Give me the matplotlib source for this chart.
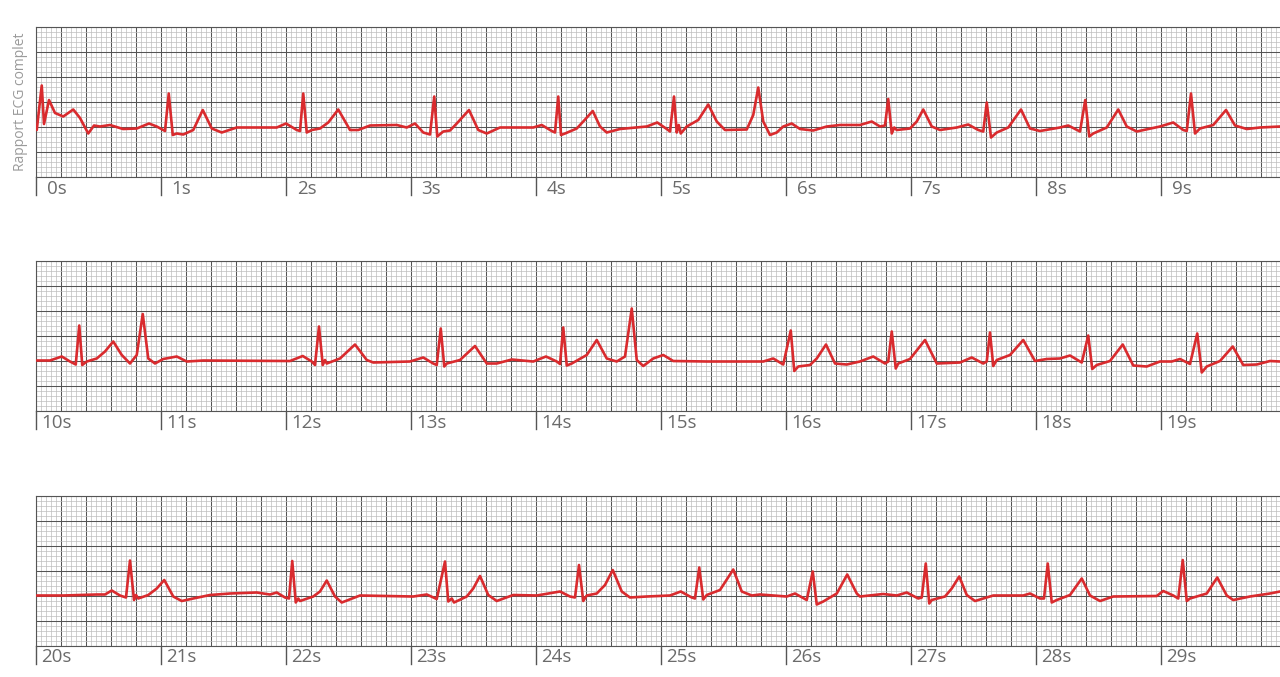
import matplotlib
matplotlib.use("Agg")
import matplotlib.pyplot as plt
import matplotlib.transforms as mtransforms
import numpy as np

# ---- data (time in seconds, amplitude in mV), traced from the strip ----
row1_t = [0.006, 0.046, 0.064, 0.104, 0.152, 0.218, 0.298, 0.352, 0.418, 0.464, 0.512, 0.592, 0.696, 0.806, 0.904, 0.966,
          1.032, 1.062, 1.094, 1.126, 1.178, 1.258, 1.334, 1.406, 1.486, 1.606, 1.926, 2.000, 2.086, 2.112, 2.138, 2.166,
          2.206, 2.272, 2.338, 2.418, 2.512, 2.578, 2.672, 2.886, 2.966, 3.032, 3.098, 3.152, 3.186, 3.210, 3.258, 3.312,
          3.366, 3.464, 3.538, 3.606, 3.712, 3.978, 4.046, 4.126, 4.152, 4.178, 4.200, 4.232, 4.326, 4.378, 4.454, 4.512,
          4.566, 4.672, 4.886, 4.970, 5.046, 5.072, 5.104, 5.126, 5.142, 5.158, 5.206, 5.298, 5.378, 5.446, 5.512, 5.686,
          5.738, 5.778, 5.818, 5.872, 5.926, 5.978, 6.046, 6.112, 6.218, 6.326, 6.432, 6.592, 6.686, 6.752, 6.792, 6.818,
          6.846, 6.866, 6.886, 6.992, 7.046, 7.098, 7.166, 7.232, 7.366, 7.458, 7.538, 7.578, 7.606, 7.640, 7.686, 7.778,
          7.880, 7.952, 8.032, 8.192, 8.258, 8.352, 8.394, 8.426, 8.458, 8.566, 8.658, 8.726, 8.806, 8.992, 9.098, 9.178,
          9.206, 9.240, 9.272, 9.312, 9.418, 9.520, 9.592, 9.686, 9.792, 9.952]
row1_v = [-0.06, 0.83, 0.06, 0.54, 0.28, 0.21, 0.35, 0.18, -0.13, 0.03, 0.01, 0.04, -0.04, -0.03, 0.07, 0.01,
          -0.08, 0.67, -0.16, -0.13, -0.15, -0.06, 0.34, -0.03, -0.11, -0.01, -0.01, 0.07, -0.06, -0.08, 0.67, -0.11,
          -0.06, -0.03, 0.09, 0.35, -0.06, -0.06, 0.03, 0.04, -0.01, 0.07, -0.11, -0.15, 0.61, -0.19, -0.09, -0.07,
          0.07, 0.34, -0.06, -0.13, -0.01, -0.01, 0.04, -0.08, -0.11, 0.61, -0.16, -0.13, -0.03, 0.11, 0.32, 0.01,
          -0.11, -0.04, 0.01, 0.09, -0.04, -0.09, 0.61, -0.11, 0.04, -0.13, 0.01, 0.14, 0.45, 0.11, -0.06, -0.05,
          0.24, 0.79, 0.11, -0.16, -0.11, 0.01, 0.07, -0.04, -0.07, 0.01, 0.04, 0.04, 0.11, 0.01, 0.03, 0.56,
          -0.13, -0.01, -0.06, -0.03, 0.11, 0.35, 0.01, -0.06, -0.01, 0.05, -0.06, -0.09, 0.49, -0.21, -0.11, -0.01,
          0.35, -0.03, -0.08, -0.01, 0.03, -0.09, 0.54, -0.19, -0.13, -0.01, 0.35, 0.01, -0.09, 0.01, 0.09, -0.06,
          -0.08, 0.67, -0.13, -0.03, 0.04, 0.34, 0.03, -0.04, -0.01, 0.01]

row2_t = [10.006, 10.112, 10.206, 10.272, 10.318, 10.346, 10.370, 10.406, 10.486, 10.552, 10.618, 10.686, 10.752,
          10.806, 10.854, 10.898, 10.952, 11.018, 11.126, 11.206, 11.338, 12.032, 12.134, 12.206, 12.232, 12.264,
          12.294, 12.312, 12.326, 12.432, 12.552, 12.646, 12.698, 12.992, 13.098, 13.178, 13.206, 13.238, 13.266,
          13.286, 13.392, 13.512, 13.606, 13.686, 13.806, 13.978, 14.080, 14.166, 14.192, 14.218, 14.246, 14.286,
          14.406, 14.486, 14.566, 14.646, 14.712, 14.766, 14.806, 14.858, 14.938, 15.018, 15.098, 15.366, 15.818,
          15.898, 15.978, 16.038, 16.066, 16.098, 16.192, 16.246, 16.320, 16.392, 16.486, 16.592, 16.698, 16.792,
          16.818, 16.846, 16.878, 16.898, 16.992, 17.112, 17.206, 17.392, 17.486, 17.578, 17.606, 17.632, 17.658,
          17.686, 17.792, 17.898, 17.992, 18.086, 18.192, 18.272, 18.366, 18.418, 18.450, 18.486, 18.592, 18.694,
          18.778, 18.886, 18.992, 19.086, 19.152, 19.232, 19.290, 19.326, 19.366, 19.472, 19.574, 19.658, 19.766,
          19.872, 19.952]
row2_v = [0.01, 0.01, 0.09, -0.01, -0.07, 0.71, -0.08, -0.01, 0.05, 0.19, 0.39, 0.12, -0.05,
          0.12, 0.94, 0.05, -0.05, 0.04, 0.09, -0.01, 0.01, 0.00, 0.10, -0.01, -0.08, 0.69,
          -0.08, 0.02, -0.05, 0.05, 0.33, 0.02, -0.03, -0.01, 0.07, -0.05, -0.08, 0.65, -0.11,
          -0.05, 0.02, 0.30, -0.05, -0.05, 0.03, -0.01, 0.09, -0.01, -0.06, 0.67, -0.09, -0.05,
          0.12, 0.42, 0.05, -0.01, 0.09, 1.05, 0.02, -0.10, 0.05, 0.12, 0.00, -0.01, -0.01,
          0.05, -0.07, 0.61, -0.20, -0.11, -0.08, 0.05, 0.33, -0.05, -0.07, -0.01, 0.09, -0.05,
          -0.01, 0.59, -0.15, -0.05, 0.04, 0.42, -0.05, -0.03, 0.07, -0.05, -0.01, 0.57, -0.10,
          0.02, 0.12, 0.42, 0.00, 0.04, 0.05, 0.11, -0.03, 0.51, -0.16, -0.08, 0.00, 0.33,
          -0.09, -0.11, -0.01, -0.01, 0.04, -0.06, 0.55, -0.23, -0.11, 0.00, 0.29, -0.08, -0.07,
          0.00, -0.01]

row3_t = [20.006, 20.218, 20.486, 20.552, 20.606, 20.672, 20.720, 20.752, 20.784, 20.800, 20.818, 20.898, 20.966,
          21.026, 21.098, 21.166, 21.258, 21.392, 21.552, 21.766, 21.872, 21.926, 21.992, 22.024, 22.050, 22.078,
          22.098, 22.112, 22.218, 22.272, 22.326, 22.392, 22.446, 22.592, 23.018, 23.126, 23.206, 23.272, 23.298,
          23.326, 23.344, 23.446, 23.498, 23.552, 23.618, 23.686, 23.818, 24.006, 24.192, 24.272, 24.312, 24.344,
          24.378, 24.406, 24.486, 24.552, 24.614, 24.686, 24.752, 24.886, 25.072, 25.158, 25.246, 25.272, 25.306,
          25.338, 25.366, 25.472, 25.578, 25.646, 25.726, 25.792, 26.006, 26.072, 26.166, 26.214, 26.246, 26.298,
          26.406, 26.490, 26.566, 26.592, 26.778, 26.886, 26.966, 27.058, 27.086, 27.118, 27.146, 27.166, 27.272,
          27.326, 27.386, 27.446, 27.512, 27.658, 27.898, 27.952, 28.032, 28.064, 28.094, 28.126, 28.166, 28.272,
          28.366, 28.432, 28.512, 28.618, 28.966, 29.018, 29.098, 29.138, 29.174, 29.206, 29.232, 29.366, 29.450,
          29.526, 29.578, 29.712, 29.872, 29.952]
row3_v = [0.00, 0.00, 0.02, 0.02, 0.10, 0.00, -0.04, 0.70, -0.09, 0.01, -0.06, 0.01, 0.14,
          0.31, -0.02, -0.11, -0.06, 0.01, 0.04, 0.06, 0.02, 0.06, -0.04, -0.06, 0.69, -0.14,
          -0.06, -0.11, -0.02, 0.08, 0.30, -0.02, -0.14, 0.00, -0.02, 0.02, -0.07, 0.68, -0.12,
          -0.06, -0.14, -0.02, 0.14, 0.39, 0.01, -0.11, 0.01, 0.00, 0.08, -0.02, -0.04, 0.61,
          -0.11, 0.00, 0.04, 0.21, 0.51, 0.08, -0.04, -0.02, 0.00, 0.08, -0.04, -0.06, 0.56,
          -0.08, 0.01, 0.11, 0.52, 0.08, 0.00, 0.02, -0.02, 0.04, -0.09, 0.48, -0.18, -0.12,
          0.04, 0.42, 0.04, -0.02, 0.03, 0.00, 0.06, -0.06, -0.04, 0.64, -0.16, -0.09, -0.02,
          0.14, 0.38, 0.01, -0.11, 0.00, 0.00, 0.04, -0.06, -0.06, 0.64, -0.14, -0.09, 0.01,
          0.34, 0.00, -0.11, -0.02, -0.01, 0.09, 0.00, -0.06, 0.71, -0.11, -0.06, 0.04, 0.36,
          0.00, -0.09, -0.02, 0.04, 0.08]

rows_t = [row1_t, row2_t, row3_t]
rows_v = [row1_v, row2_v, row3_v]
row_starts = [0, 10, 20]
second_labels = [[f"{s}s" for s in range(r, r + 10)] for r in row_starts]
y_title = "Rapport ECG complet"

# ---- figure layout ----
W, H = 1280, 677
fig = plt.figure(figsize=(W / 100, H / 100), dpi=100)
plt.rcParams['font.family'] = ['Open Sans', 'DejaVu Sans']

panel_tops = [27, 261, 495.5]
panel_h = 150
left_px = 36
px_per_s = 125

line_color = '#d92b2e'
major_c = '#555555'
minor_c = '#bdbdbd'

for i in range(3):
    top = panel_tops[i]
    ax = fig.add_axes([left_px / W, (H - top - panel_h) / H, 10 * px_per_s / W, panel_h / H])
    x0 = row_starts[i]
    ax.set_xlim(x0, x0 + 10)
    ax.set_ylim(-1.0, 2.0)
    ax.set_xticks(np.arange(x0, x0 + 10.001, 0.2))
    ax.set_xticks(np.arange(x0, x0 + 10.001, 0.04), minor=True)
    ax.set_yticks(np.arange(-1.0, 2.001, 0.5))
    ax.set_yticks(np.arange(-1.0, 2.001, 0.1), minor=True)
    ax.grid(which='minor', color=minor_c, lw=0.5, zorder=0)
    ax.grid(which='major', color=major_c, lw=0.75, zorder=1)
    ax.tick_params(which='both', length=0, labelbottom=False, labelleft=False)
    ax.set_axisbelow(True)
    for s in ['left', 'bottom', 'top', 'right']:
        ax.spines[s].set_color(major_c)
        ax.spines[s].set_linewidth(0.8)

    ax.plot(rows_t[i], rows_v[i], color=line_color, lw=1.9, solid_joinstyle='round',
            solid_capstyle='round', zorder=3)

    trans = mtransforms.blended_transform_factory(ax.transData, ax.transAxes)
    for k, lab in enumerate(second_labels[i]):
        sec = x0 + k
        ax.plot([sec, sec], [0, -18 / panel_h], color=major_c, lw=1.0, transform=trans,
                clip_on=False)
        ax.text(sec + 20.5 / px_per_s, -12 / panel_h, lab, transform=trans, ha='center', va='center',
                fontsize=13.5, color='#6b6b6b')

    if i == 0:
        ax.text(-15 / (10 * px_per_s), 0.5, y_title, transform=ax.transAxes, rotation=90,
                ha='center', va='center', fontsize=10, color='#9a9a9a')

fig.savefig('out.png', dpi=100)
